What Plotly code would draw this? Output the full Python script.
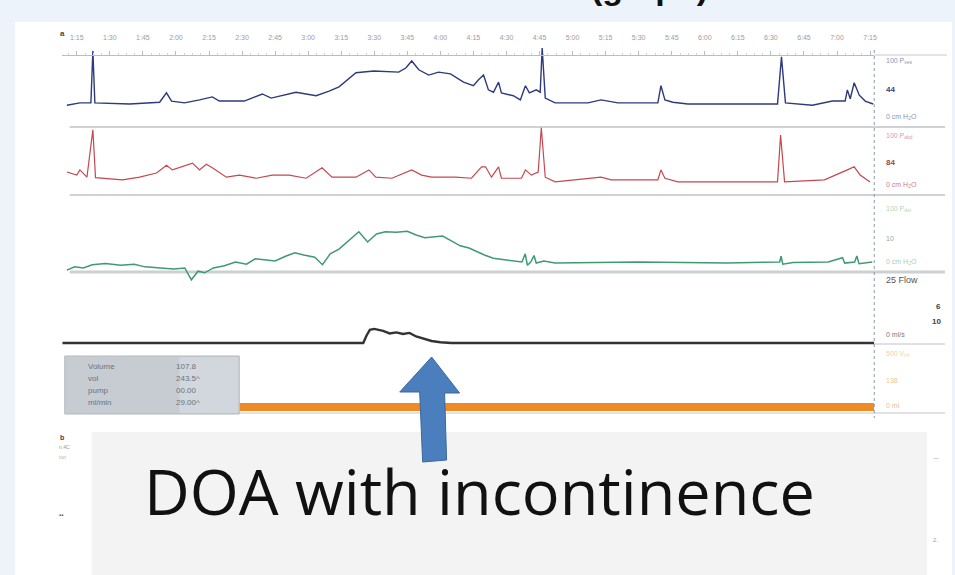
import plotly.graph_objects as go

W, H = 955, 575

# ---------------- data ----------------
tick_seconds = [75, 90, 105, 120, 135, 150, 165, 180, 195, 210, 225, 240, 255,
                270, 285, 300, 315, 330, 345, 360, 375, 390, 405, 420, 435]
tick_labels = ["1:15", "1:30", "1:45", "2:00", "2:15", "2:30", "2:45", "3:00", "3:15",
               "3:30", "3:45", "4:00", "4:15", "4:30", "4:45", "5:00", "5:15", "5:30",
               "5:45", "6:00", "6:15", "6:30", "6:45", "7:00", "7:15"]

# Pves (cm H2O)
pves_t = [70.5, 76.4, 81.4, 82.3, 83.2, 99.0, 112.6, 115.7, 118.0, 123.9, 130.7, 136.5,
          139.7, 151.0, 159.2, 163.2, 174.5, 183.6, 189.5, 194.0, 201.7, 209.8, 221.1,
          224.3, 227.0, 230.2, 234.7, 239.2, 244.6, 250.5, 255.0, 257.3, 259.6, 261.8,
          264.1, 266.4, 267.7, 273.1, 276.3, 278.6, 280.4, 283.5, 285.3, 286.2, 287.6,
          292.1, 307.0, 312.9, 320.6, 338.7, 340.1, 341.9, 345.5, 352.3, 393.0, 394.8,
          396.6, 408.8, 417.9, 423.7, 424.7, 426.0, 427.8, 430.1, 432.8, 436.4]
pves_v = [20, 24, 24, 112, 24, 22, 25, 41, 27, 24, 29, 34, 27, 27, 39, 32, 42, 36, 44,
          51, 75, 78, 76, 83, 95, 80, 71, 76, 73, 59, 53, 63, 71, 46, 42, 59, 41, 36, 29,
          53, 41, 46, 42, 117, 32, 24, 24, 29, 24, 24, 53, 29, 25, 22, 22, 102, 24, 20,
          27, 27, 46, 31, 58, 37, 27, 22]

# Pabd (cm H2O)
pabd_t = [70.5, 75.0, 76.4, 79.6, 82.3, 83.5, 95.8, 103.5, 111.2, 115.7, 118.4, 123.0,
          127.5, 130.7, 133.8, 136.5, 142.9, 148.8, 156.4, 163.7, 171.4, 179.1, 186.3,
          190.8, 201.7, 207.6, 210.7, 218.0, 227.0, 231.5, 236.0, 246.9, 254.1, 258.7,
          260.5, 263.2, 266.4, 267.7, 276.8, 278.6, 281.3, 284.4, 285.8, 287.6, 292.1,
          312.9, 317.5, 338.7, 340.1, 341.9, 347.8, 393.0, 394.4, 396.2, 414.3, 424.7,
          427.8, 430.5, 435.0]
pabd_v = [25, 19, 29, 15, 106, 14, 10, 15, 23, 38, 29, 35, 42, 29, 40, 33, 15, 19, 13,
          19, 19, 13, 33, 15, 15, 29, 15, 13, 29, 19, 15, 15, 13, 35, 35, 15, 35, 13, 13,
          29, 19, 25, 110, 15, 6, 15, 10, 10, 29, 13, 6, 6, 96, 6, 10, 29, 35, 19, 6]

# Pdet (cm H2O)
pdet_t = [70.5, 74, 78, 82, 88, 95, 101, 106, 113, 119, 124, 127, 130, 133, 137, 142,
          147, 152, 156, 160, 165, 170, 174, 178, 183, 186.5, 190, 194, 199, 203, 207,
          211, 215, 220, 225, 229, 233, 237, 241, 245, 249, 253, 256, 260, 264, 269, 274,
          277, 278.5, 279.5, 281, 282.5, 283.5, 287, 292, 330, 370, 394, 394.6, 395.4,
          400, 416, 422.5, 423.5, 428, 429, 430, 436]
pdet_v = [-15, -9, -11, -5, -3, -6, -4, -9, -11, -13, -11, -33, -17, -20, -11, -7, 0, -4,
          6, 4, 2, 11, 17, 13, 9, -5, 15, 24, 41, 56, 37, 52, 56, 55, 57, 50, 45, 46, 48,
          39, 30, 26, 20, 13, 7, 4, 2, 0, 15, -6, 0, 12, -2, 2, -2, 0, -2, 0, 11, -4, -1,
          0, 8, -2, 0, 11, -3, 0]

# Flow (ml/s)
flow_t = [68.5, 205, 206.5, 208, 210, 214, 217, 220, 223, 226, 229, 232, 236, 240, 245, 436.9]
flow_v = [0, 0, 3, 5.2, 5.6, 4.8, 3.8, 4.2, 3.6, 4.0, 2.6, 1.8, 0.8, 0.3, 0, 0]

# Pump / infusion bar
pump_t = [148.8, 436.9]
pump_v = [0, 0]

info_labels = ["Volume", "vol", "pump", "ml/min"]
info_values = ["107.8", "243.5^", "00.00", "29.00^"]

title_text = "(graph)"
caption_text = "DOA with incontinence"

# ---------------- helpers (layout positions in pixels) ----------------
def PX(x):
    return x / W

def PY(y):
    return 1 - y / H

def dom(top, bottom):
    return [PY(bottom), PY(top)]

X_RANGE = [68.2, 436.9]
X_MARK = 438.6

fig = go.Figure()

series = [
    (pves_t, pves_v, "y", "#2d3a7c", 1.4),
    (pabd_t, pabd_v, "y2", "#c5474f", 1.2),
    (pdet_t, pdet_v, "y3", "#3f9a72", 1.5),
    (flow_t, flow_v, "y4", "#333333", 2.4),
    (pump_t, pump_v, "y5", "#f08a24", 8),
]
for t, v, ya, col, w in series:
    fig.add_trace(go.Scatter(x=t, y=v, yaxis=ya, mode="lines",
                             line=dict(color=col, width=w), hoverinfo="skip",
                             showlegend=False))

# current-value markers on right axis
for t, v, ya, col in [(pves_t, pves_v, "y", "#2d3a7c"), (pabd_t, pabd_v, "y2", "#b0303a"),
                      (pdet_t, pdet_v, "y3", "#6fa86f"), (flow_t, flow_v, "y4", "#222222"),
                      (pump_t, pump_v, "y5", "#f0a050")]:
    fig.add_trace(go.Scatter(x=[X_MARK], y=[v[-1]], yaxis=ya, mode="markers",
                             marker=dict(symbol="triangle-left", size=9, color=col),
                             cliponaxis=False, hoverinfo="skip", showlegend=False))

hidden = dict(visible=False, fixedrange=True)
fig.update_layout(
    width=W, height=H, autosize=False,
    margin=dict(l=0, r=0, t=0, b=0),
    paper_bgcolor="#edf3fb", plot_bgcolor="rgba(0,0,0,0)",
    xaxis=dict(domain=[PX(62), PX(877)], range=X_RANGE, side="top", anchor="free",
               position=PY(55), showline=True, linecolor="#b9bcc2", linewidth=1,
               ticks="outside", ticklen=4, tickcolor="#b9bcc2",
               tickvals=tick_seconds, ticktext=tick_labels, ticklabelstandoff=8,
               tickfont=dict(size=7, color="#9a9ca2", family="Liberation Sans"),
               minor=dict(dtick=3.75, ticks="outside", ticklen=2, tickcolor="#cfd2d6"),
               showgrid=False, zeroline=False, fixedrange=True),
    yaxis=dict(domain=dom(45, 125), range=[-13.56, 122.03], anchor="x", **hidden),
    yaxis2=dict(domain=dom(125, 195), range=[-19.23, 115.38], anchor="x", **hidden),
    yaxis3=dict(domain=dom(195, 285), range=[-42.59, 124.07], anchor="x", **hidden),
    yaxis4=dict(domain=dom(272, 350), range=[-2.78, 28.17], anchor="x", **hidden),
    yaxis5=dict(domain=dom(345, 420), range=[-118.2, 563.6], anchor="x", **hidden),
    yaxis6=dict(domain=dom(55, 416), range=[0, 1], anchor="free", position=PX(877),
                side="right", showline=False, ticks="outside", ticklen=3,
                tickcolor="#8d9bb0", dtick=0.02, showticklabels=False,
                showgrid=False, zeroline=False, fixedrange=True),
)

shapes = []
# white page
shapes.append(dict(type="rect", xref="paper", yref="paper", x0=PX(15), x1=1.0,
                   y0=0, y1=PY(22), fillcolor="white", line=dict(width=0), layer="below"))
# separators
for yy, col, w in [(127, "#cfd1d4", 2), (195, "#cfd1d4", 2), (272, "#cdd0d3", 3),
                   (413, "#d6d8da", 1.5)]:
    shapes.append(dict(type="line", xref="paper", yref="paper", x0=PX(70), x1=PX(948),
                       y0=PY(yy), y1=PY(yy), line=dict(color=col, width=w), layer="below"))
shapes.append(dict(type="line", xref="paper", yref="paper", x0=PX(877), x1=PX(950),
                   y0=PY(55), y1=PY(55), line=dict(color="#c4c7cc", width=1), layer="below"))
shapes.append(dict(type="line", xref="paper", yref="paper", x0=PX(877), x1=PX(948),
                   y0=PY(344), y1=PY(344), line=dict(color="#bfc2c6", width=1), layer="below"))
# dashed right axis
shapes.append(dict(type="line", xref="paper", yref="paper", x0=PX(877), x1=PX(877),
                   y0=PY(50), y1=PY(418), line=dict(color="#8a97ab", width=1, dash="dot"),
                   layer="below"))
# info box
shapes.append(dict(type="rect", xref="paper", yref="paper", x0=PX(65), x1=PX(240),
                   y0=PY(414), y1=PY(356), fillcolor="#c6ccd2",
                   line=dict(color="#b3b9bf", width=1), layer="above"))
shapes.append(dict(type="rect", xref="paper", yref="paper", x0=PX(180), x1=PX(239),
                   y0=PY(413), y1=PY(357), fillcolor="#d6dbe0",
                   line=dict(width=0), layer="above", opacity=0.7))
# caption box
shapes.append(dict(type="rect", xref="paper", yref="paper", x0=PX(92), x1=PX(930),
                   y0=0, y1=PY(432), fillcolor="#f3f3f3", line=dict(width=0), layer="above"))
# blue arrow
arrow_px = [(424, 462), (448, 460), (446, 393), (461, 393), (433, 357), (401, 392), (421, 392)]
path = "M " + " L ".join(f"{PX(a):.5f},{PY(b):.5f}" for a, b in arrow_px) + " Z"
shapes.append(dict(type="path", xref="paper", yref="paper", path=path,
                   fillcolor="#4a7ebd", line=dict(color="#3b679c", width=1), layer="above"))
fig.update_layout(shapes=shapes)

ann = []
def txt(x, y, s, size=7, color="#777", xanchor="left", family="Liberation Sans", yanchor="middle"):
    ann.append(dict(x=PX(x), y=PY(y), xref="paper", yref="paper", text=s, showarrow=False,
                    xanchor=xanchor, yanchor=yanchor,
                    font=dict(size=size, color=color, family=family)))

# right labels
txt(887, 61, "100 P<sub>ves</sub>", 7, "#8b95b3")
txt(887, 90, "<b>44</b>", 8, "#3b4470")
txt(887, 117, "0 cm H<sub>2</sub>O", 7, "#8b95b3")
txt(887, 136, "100 P<sub>abd</sub>", 7, "#d89ca2")
txt(887, 163, "<b>84</b>", 8, "#a5424a")
txt(887, 185, "0 cm H<sub>2</sub>O", 7, "#cc8087")
txt(887, 209, "100 P<sub>det</sub>", 7, "#b2d6b2")
txt(887, 238, "10", 7, "#9aa89c")
txt(887, 262, "0 cm H<sub>2</sub>O", 7, "#a9cfb0")
txt(887, 280, "25 Flow", 9, "#555555")
txt(946, 306, "<b>6</b>", 8, "#444444", xanchor="right")
txt(946, 321, "<b>10</b>", 8, "#444444", xanchor="right")
txt(887, 334, "0 ml/s", 7, "#777777")
txt(887, 354, "500 V<sub>inf</sub>", 7, "#efd2a8")
txt(887, 380, "138", 7, "#ecc996")
txt(887, 405, "0 ml", 7, "#e2c0a0")

# info box text
for i, (lab, val) in enumerate(zip(info_labels, info_values)):
    txt(86, 366 + i * 12, lab, 8, "#6c737a")
    txt(175, 366 + i * 12, val, 8, "#6c737a")

# panel letters and small marks
txt(58, 33, "<b>a</b>", 8, "#444444")
txt(58, 437, "<b>b</b>", 7, "#444444")
txt(57, 447, "n.4C", 5, "#9a9a9a")
txt(57, 457, "tun", 5, "#b0b0b0")
txt(57, 515, "<b>▪▪</b>", 6, "#555555")
txt(934, 458, "—", 6, "#9a9a9a")
txt(934, 540, "2.", 6, "#9a9a9a")

# title (cut off at top) and caption
ann.append(dict(x=PX(652), y=PY(8), xref="paper", yref="paper", text=f"<b>{title_text}</b>",
                showarrow=False, xanchor="center", yanchor="bottom",
                font=dict(size=34, color="#111111", family="Liberation Sans")))
ann.append(dict(x=PX(481), y=PY(490), xref="paper", yref="paper", text=caption_text,
                showarrow=False, xanchor="center", yanchor="middle",
                font=dict(size=63, color="#111111", family="Open Sans")))

fig.update_layout(annotations=ann)
fig.write_html("out.html")
